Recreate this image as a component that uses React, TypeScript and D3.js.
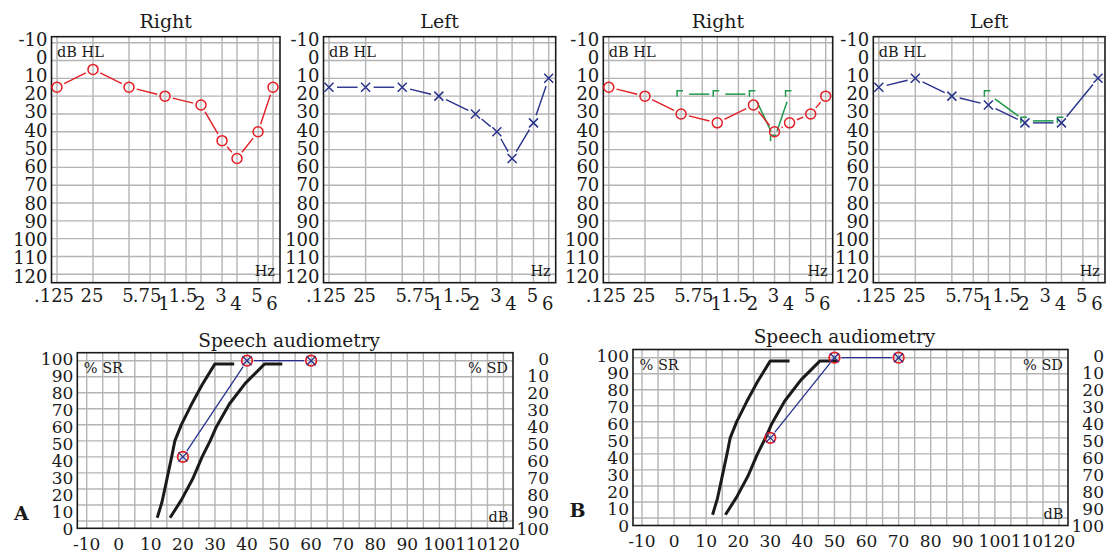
import React from 'react'
import * as d3 from 'd3'

const FONT = "'DejaVu Serif', serif"
const RED = '#e31e24'
const BLUE = '#27318b'
const GREEN = '#1e9a4c'
const GRID = '#b4b4b4'
const INK = '#1a1a1a'

// audiogram axes
const freqTicks = [125, 250, 500, 750, 1000, 1500, 2000, 3000, 4000, 6000, 8000]
const freqTickLabels = ['.125', '25', '5', '.75', '1', '1.5', '2', '3', '4', '5', '6']
const loweredFreqs = [1000, 2000, 4000, 8000]
const dbTicks = [-10, 0, 10, 20, 30, 40, 50, 60, 70, 80, 90, 100, 110, 120]

// panel A audiograms
const airFreqs = [125, 250, 500, 1000, 2000, 3000, 4000, 6000, 8000]
const rightEarA = [15, 5, 15, 20, 25, 45, 55, 40, 15]
const leftEarA = [15, 15, 15, 20, 30, 40, 55, 35, 10]

// panel B audiograms
const rightEarB = [15, 20, 30, 35, 25, 40, 35, 30, 20]
const leftFreqsB = [125, 250, 500, 1000, 2000, 4000, 8000]
const leftEarB = [15, 10, 20, 25, 35, 35, 10]
const boneFreqsRightB = [500, 1000, 2000, 3000, 4000]
const boneRightB = [20, 20, 20, 45, 20]
const boneFreqsLeftB = [1000, 2000, 4000]
const boneLeftB = [20, 35, 35]

// speech audiometry
const speechTicks = [-10, 0, 10, 20, 30, 40, 50, 60, 70, 80, 90, 100, 110, 120]
const srTicks = [100, 90, 80, 70, 60, 50, 40, 30, 20, 10, 0]
const sdTicks = [0, 10, 20, 30, 40, 50, 60, 70, 80, 90, 100]
const normFastDb = [12, 13.5, 15, 16.5, 17.5, 19.5, 22.5, 26, 30, 36]
const normFastPct = [2, 12, 26, 40, 50, 60, 72, 85, 98, 98]
const normSlowDb = [16, 19.5, 23, 26, 28.5, 30.5, 34.5, 39.5, 45.5, 51]
const normSlowPct = [2, 13, 26, 40, 50, 59, 73, 86, 98, 98]
const speechDbA = [20, 40, 60]
const speechPctA = [40, 100, 100]
const speechDbB = [30, 50, 70]
const speechPctB = [50, 100, 100]

type Pt = [number, number]

function gapLine(a: Pt, b: Pt, g1: number, g2: number) {
  const dx = b[0] - a[0], dy = b[1] - a[1]
  const L = Math.hypot(dx, dy)
  if (L <= g1 + g2) return null
  return [a[0] + dx / L * g1, a[1] + dy / L * g1, b[0] - dx / L * g2, b[1] - dy / L * g2]
}

function Segments({ pts, gap, color, width }: { pts: Pt[]; gap: number; color: string; width: number }) {
  return (
    <g stroke={color} strokeWidth={width}>
      {pts.slice(1).map((p, i) => {
        const s = gapLine(pts[i], p, gap, gap)
        if (!s) return null
        return <line key={i} x1={s[0]} y1={s[1]} x2={s[2]} y2={s[3]} />
      })}
    </g>
  )
}

function Audiogram(props: {
  left: number; right: number; title: string; freqs: number[]; values: number[]; mark: 'o' | 'x'
  boneFreqs?: number[]; boneValues?: number[]
}) {
  const { left, right, title, freqs, values, mark, boneFreqs, boneValues } = props
  const top = 36.7, bottom = 282.7
  const x = d3.scaleLog().domain([125, 8000]).range([left + 5.5, right - 7])
  const y = d3.scaleLinear().domain([-10, 120]).range([42.7, 274.3])
  const labelY = d3.scalePoint().domain(dbTicks.map(String)).range([45.5, 282.5])
  const color = mark === 'o' ? RED : BLUE
  const pts: Pt[] = freqs.map((f, i) => [x(f), y(values[i])])
  const bonePts: Pt[] = (boneFreqs || []).map((f, i) => [x(f), y(boneValues![i])])

  return (
    <g>
      <text x={(left + right) / 2} y={28} textAnchor="middle" fontSize={19} fill={INK}>{title}</text>
      {freqTicks.map(f => (
        <line key={'v' + f} x1={x(f)} x2={x(f)} y1={top} y2={bottom} stroke={GRID} strokeWidth={1.4} />
      ))}
      {dbTicks.map(d => (
        <line key={'h' + d} x1={left} x2={right} y1={y(d)} y2={y(d)} stroke={GRID} strokeWidth={1.4} />
      ))}
      <rect x={left} y={top} width={right - left} height={bottom - top} fill="none" stroke={INK} strokeWidth={1.6} />
      {dbTicks.map(d => (
        <text key={'l' + d} x={left - 4} y={labelY(String(d))} textAnchor="end" fontSize={18} fill={INK}>{d}</text>
      ))}
      {freqTicks.map((f, i) => {
        const lab = freqTickLabels[i]
        return (
          <text key={'f' + f} x={x(f) + (lab.includes('.') ? -3 : -1)} y={loweredFreqs.includes(f) ? 310 : 301.5}
            textAnchor="middle" fontSize={18} fill={INK}>{lab}</text>
        )
      })}
      <text x={left + 5.5} y={57} fontSize={14.5} fill={INK}>dB HL</text>
      <text x={right - 5} y={276} textAnchor="end" fontSize={14.5} fill={INK}>Hz</text>

      {bonePts.length > 0 && (
        <g fill="none" stroke={GREEN} strokeWidth={1.5}>
          <Segments pts={bonePts.map(p => [p[0], p[1] - 2] as Pt)} gap={8} color={GREEN} width={1.5} />
          {bonePts.map((p, i) => (
            <path key={i} d={`M${p[0] - 4},${p[1] + 0.5}V${p[1] - 5.5}H${p[0] + 2}`} />
          ))}
        </g>
      )}

      <Segments pts={pts} gap={8} color={color} width={1.4} />
      {pts.map((p, i) => mark === 'o'
        ? <circle key={i} cx={p[0]} cy={p[1]} r={5} fill="none" stroke={RED} strokeWidth={1.5} />
        : <path key={i} d={`M${p[0] - 4.5},${p[1] - 4.5}L${p[0] + 4.5},${p[1] + 4.5}M${p[0] - 4.5},${p[1] + 4.5}L${p[0] + 4.5},${p[1] - 4.5}`}
            stroke={BLUE} strokeWidth={1.5} />
      )}
    </g>
  )
}

type SpeechLayout = {
  l: number; r: number; t: number; b: number
  xr: [number, number]; yr: [number, number]; lab: [number, number]
  xBase: number; titleY: number; letter: string; letterX: number; letterY: number; noteY: number; dbY: number
}

function Speech({ lay, dbs, pcts }: { lay: SpeechLayout; dbs: number[]; pcts: number[] }) {
  const x = d3.scaleLinear().domain([-10, 120]).range(lay.xr)
  const y = d3.scaleLinear().domain([0, 100]).range(lay.yr)
  const labY = d3.scalePoint().domain(srTicks.map(String)).range(lay.lab)
  const rLabY = d3.scalePoint().domain(sdTicks.map(String)).range(lay.lab)
  const line = d3.line<number>().x(d => x(d)).y((d, i) => 0)
  const curve = (dbArr: number[], pctArr: number[]) =>
    d3.line<number>().x(d => x(d)).y((_, i) => y(pctArr[i]))(dbArr) || ''
  void line
  const pts: Pt[] = dbs.map((d, i) => [x(d), y(pcts[i])])

  return (
    <g>
      <text x={(lay.l + lay.r) / 2 - 6} y={lay.titleY} textAnchor="middle" fontSize={18.5} fill={INK}>Speech audiometry</text>
      {d3.range(-10, 125, 5).map(v => (
        <line key={'v' + v} x1={x(v)} x2={x(v)} y1={lay.t} y2={lay.b} stroke={GRID} strokeWidth={1.4} />
      ))}
      {sdTicks.map(v => (
        <line key={'h' + v} x1={lay.l} x2={lay.r} y1={y(v)} y2={y(v)} stroke={GRID} strokeWidth={1.4} />
      ))}
      <rect x={lay.l} y={lay.t} width={lay.r - lay.l} height={lay.b - lay.t} fill="none" stroke={INK} strokeWidth={1.6} />
      {srTicks.map(v => (
        <text key={'sr' + v} x={lay.l - 4} y={labY(String(v))} textAnchor="end" fontSize={17} fill={INK}>{v}</text>
      ))}
      {sdTicks.map(v => (
        <text key={'sd' + v} x={lay.r + 36} y={rLabY(String(v))} textAnchor="end" fontSize={17} fill={INK}>{v}</text>
      ))}
      {speechTicks.map(v => (
        <text key={'x' + v} x={x(v)} y={lay.xBase} textAnchor="middle" fontSize={17} fill={INK}>{v}</text>
      ))}
      <text x={lay.l + 6.5} y={lay.noteY} fontSize={14.5} fill={INK}>% SR</text>
      <text x={lay.r - 5} y={lay.noteY} textAnchor="end" fontSize={14.5} fill={INK}>% SD</text>
      <text x={lay.r - 4.5} y={lay.dbY} textAnchor="end" fontSize={14.5} fill={INK}>dB</text>
      <text x={lay.letterX} y={lay.letterY} fontSize={19} fontWeight="bold" fill={INK}>{lay.letter}</text>

      <path d={curve(normFastDb, normFastPct)} fill="none" stroke={INK} strokeWidth={3} strokeLinejoin="round" />
      <path d={curve(normSlowDb, normSlowPct)} fill="none" stroke={INK} strokeWidth={3} strokeLinejoin="round" />

      <Segments pts={pts} gap={7} color={BLUE} width={1.3} />
      {pts.map((p, i) => (
        <g key={i}>
          <circle cx={p[0]} cy={p[1]} r={5.3} fill="none" stroke={RED} strokeWidth={1.7} />
          <path d={`M${p[0] - 4.5},${p[1] - 4.5}L${p[0] + 4.5},${p[1] + 4.5}M${p[0] - 4.5},${p[1] + 4.5}L${p[0] + 4.5},${p[1] - 4.5}`}
            stroke={BLUE} strokeWidth={1.3} />
        </g>
      ))}
    </g>
  )
}

const layoutA: SpeechLayout = {
  l: 77.3, r: 513, t: 352.7, b: 528.3, xr: [86.7, 503.5], yr: [521, 360.7], lab: [365, 535],
  xBase: 549.5, titleY: 346.7, letter: 'A', letterX: 14, letterY: 520, noteY: 373, dbY: 521.7,
}
const layoutB: SpeechLayout = {
  l: 633, r: 1068, t: 349.5, b: 525.5, xr: [642, 1059], yr: [518, 357.7], lab: [362, 532],
  xBase: 547, titleY: 342.7, letter: 'B', letterX: 569.5, letterY: 516.7, noteY: 370, dbY: 519.3,
}

export default function App() {
  return (
    <svg width={1110} height={552} style={{ position: 'absolute', left: 0, top: 0, background: '#fff' }}
      fontFamily={FONT}>
      <Audiogram left={51.5} right={280} title="Right" freqs={airFreqs} values={rightEarA} mark="o" />
      <Audiogram left={323.5} right={555.7} title="Left" freqs={airFreqs} values={leftEarA} mark="x" />
      <Audiogram left={603.3} right={832.7} title="Right" freqs={airFreqs} values={rightEarB} mark="o"
        boneFreqs={boneFreqsRightB} boneValues={boneRightB} />
      <Audiogram left={873.3} right={1105} title="Left" freqs={leftFreqsB} values={leftEarB} mark="x"
        boneFreqs={boneFreqsLeftB} boneValues={boneLeftB} />
      <Speech lay={layoutA} dbs={speechDbA} pcts={speechPctA} />
      <Speech lay={layoutB} dbs={speechDbB} pcts={speechPctB} />
    </svg>
  )
}
